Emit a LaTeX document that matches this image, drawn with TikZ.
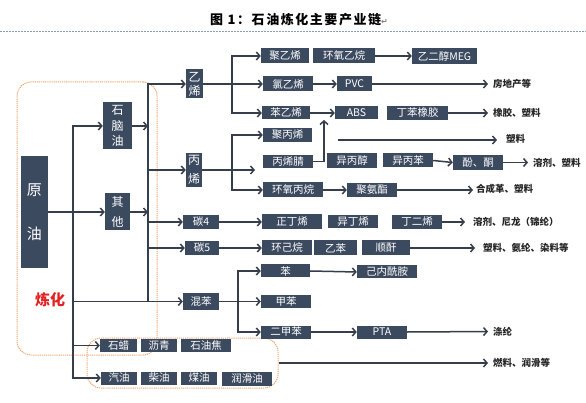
\documentclass[tikz,border=0pt]{standalone}
\usepackage{fontspec}
\usetikzlibrary{arrows.meta}
\newfontfamily\cjk{Noto Sans CJK SC}
\newfontfamily\symf{DejaVu Sans}
\definecolor{boxc}{RGB}{60,74,96}
\definecolor{linec}{RGB}{55,62,75}
\definecolor{orng}{RGB}{240,165,110}
\definecolor{dashc}{RGB}{140,155,175}
\definecolor{redc}{RGB}{225,35,35}
\begin{document}
\begin{tikzpicture}[x=1pt,y=-1pt,
 bx/.style={fill=boxc,text=white,inner sep=0pt,minimum height=14pt,font=\cjk\fontsize{10.5}{11}\selectfont},
 vb/.style={fill=boxc,text=white,inner sep=0pt,align=center},
 lbl/.style={anchor=west,inner sep=0pt,font=\cjk\bfseries\fontsize{9.5}{10}\selectfont,text=black!85},
 ln/.style={draw=linec,line width=1.5pt},
 arr/.style={ln,-{Straight Barb[length=3.5pt,width=8pt]}},
 arrl/.style={arr,shorten >=5pt},
 grp/.style={draw=orng,line width=1pt,dash pattern=on 1.2pt off 0.9pt,rounded corners=14pt,inner sep=0pt},
]
\useasboundingbox (0,0) rectangle (586,403);
\fill[white] (0,0) rectangle (586,403);
% title
\node[font=\cjk\bfseries\fontsize{13}{14}\selectfont] (title) at (299,20) {\addfontfeature{LetterSpace=12}图 1：石油炼化主要产业链{\color{gray}\symf\fontsize{8}{9}\selectfont ↵}};
\coordinate (dl) at (0,31); \coordinate (dr) at (586,31);
\draw[dashc,line width=0.6pt,dash pattern=on 2pt off 1pt] (dl) -- (dr);
% groups
\node[grp,minimum width=140pt,minimum height=273pt] (g1) at (87,218.5) {};
\node[grp,minimum width=191pt,minimum height=50pt] (g2) at (182.5,363) {};
% left column
\node[vb,minimum width=27pt,minimum height=112pt,font=\cjk\fontsize{15}{44}\selectfont] (yy) at (34.5,212) {原\\油};
\node[font=\cjk\bfseries\fontsize{15}{16}\selectfont,text=redc] (lh) at (50,300) {炼化};
\node[vb,minimum width=29pt,minimum height=47pt,font=\cjk\fontsize{12}{15.5}\selectfont] (snl) at (117.5,126) {石\\脑\\油};
\node[vb,minimum width=25pt,minimum height=37pt,font=\cjk\fontsize{12}{20}\selectfont] (qt) at (117.5,212) {其\\他};
% second column
\node[vb,minimum width=17pt,minimum height=29pt,font=\cjk\fontsize{12}{14}\selectfont] (yx) at (194.5,84) {乙\\烯};
\node[vb,minimum width=16pt,minimum height=34pt,font=\cjk\fontsize{12}{19}\selectfont] (bx) at (194,170) {丙\\烯};
\node[bx,minimum width=36pt] (c4) at (201,222) {碳4};
\node[bx,minimum width=34pt] (c5) at (202,248) {碳5};
\node[bx,minimum width=36pt,minimum height=17pt] (hb) at (201,301.5) {混苯};
% ethylene rows
\node[bx,minimum width=48pt,minimum height=15pt] (jyx) at (285,56) {聚乙烯};
\node[bx,minimum width=62pt,minimum height=15pt] (hyyw) at (344,56) {环氧乙烷};
\node[bx,minimum width=65pt,minimum height=16pt] (meg) at (444.5,56) {乙二醇MEG};
\node[bx,minimum width=50pt,minimum height=15pt] (lyx) at (288,84) {氯乙烯};
\node[bx,minimum width=35pt,minimum height=15pt] (pvc) at (354.5,84) {PVC};
\node[lbl] (l1) at (493,84) {房地产等};
\node[bx,minimum width=48pt,minimum height=13pt] (byx) at (286,113) {苯乙烯};
\node[bx,minimum width=43pt,minimum height=13pt] (abs) at (356.5,113) {ABS};
\node[bx,minimum width=61pt] (dbxj) at (417.5,113) {丁苯橡胶};
\node[lbl] (l2) at (493,113) {橡胶、塑料};
% propylene rows
\node[bx,minimum width=49pt] (jbx) at (287.5,135) {聚丙烯};
\coordinate (s1) at (338,140);
\node[lbl] (l3) at (506,139) {塑料};
\node[bx,minimum width=50pt,minimum height=13pt] (bxj) at (288,161.5) {丙烯腈};
\node[bx,minimum width=50pt,minimum height=15pt] (ybc) at (352,160.5) {异丙醇};
\node[bx,minimum width=50pt] (ybb) at (408,160.5) {异丙苯};
\node[bx,minimum width=50pt,minimum height=15pt] (ft) at (478,162.5) {酚、酮};
\node[lbl] (l4) at (533,162.5) {溶剂、塑料};
\node[bx,minimum width=60pt,minimum height=15pt] (hybw) at (293,190) {环氧丙烷};
\node[bx,minimum width=50pt] (jaz) at (372,190) {聚氨酯};
\node[lbl] (l5) at (476,189) {合成革、塑料};
% C4 / C5
\node[bx,minimum width=60pt,minimum height=15pt] (zdx) at (292,222) {正丁烯};
\node[bx,minimum width=50pt,minimum height=13pt] (ydx) at (353,222) {异丁烯};
\node[bx,minimum width=50pt] (ded) at (417,222) {丁二烯};
\node[lbl] (l6) at (473,222) {溶剂、尼龙（锦纶）};
\node[bx,minimum width=50pt,minimum height=15pt] (hjw) at (287,248) {环己烷};
\node[bx,minimum width=43pt,minimum height=15pt] (yb) at (335.5,248) {乙苯};
\node[bx,minimum width=48pt,minimum height=15pt] (sg) at (386,248) {顺酐};
\node[lbl] (l7) at (483,248) {塑料、氨纶、染料等};
% aromatics
\node[bx,minimum width=49pt,minimum height=13pt] (ben) at (285.5,271) {苯};
\node[bx,minimum width=60pt,minimum height=13pt] (jnxa) at (387,272) {己内酰胺};
\node[bx,minimum width=50pt,minimum height=13pt] (jb) at (286,301.5) {甲苯};
\node[bx,minimum width=50pt,minimum height=13pt] (ejb) at (286,332) {二甲苯};
\node[bx,minimum width=50pt,minimum height=13pt] (pta) at (382,332) {PTA};
\node[lbl] (l8) at (493,331.5) {涤纶};
% products
\node[bx,minimum width=37pt,minimum height=13pt] (sl) at (118.5,345.5) {石蜡};
\node[bx,minimum width=36pt,minimum height=13pt] (lq) at (159,345.5) {沥青};
\node[bx,minimum width=50pt,minimum height=13pt] (syj) at (206,345.5) {石油焦};
\node[bx,minimum width=36pt,minimum height=13pt] (qy) at (119,378) {汽油};
\node[bx,minimum width=36pt,minimum height=13pt] (cy) at (159,378) {柴油};
\node[bx,minimum width=36pt,minimum height=13pt] (my) at (199,378) {煤油};
\node[bx,minimum width=50pt,minimum height=14pt] (rhy) at (247,378.5) {润滑油};
\node[lbl] (l9) at (493,363) {燃料、润滑等};
% trunk 1
\coordinate (t1top) at (73,126);
\coordinate (t1bot) at (73,378);
\coordinate (t1hb) at (73,301.5);
\coordinate (t1sl) at (73,345.5);
\draw[arr] (t1bot) -- (t1top) -- (snl.west);
\draw[arr] (t1top) -- (t1bot) -- (qy.west);
\draw[arr] (yy.east) -- (qt.west);
\draw[arr] (t1hb) -- (hb.west);
\draw[arr] (t1sl) -- (sl.west);
% trunk 2
\coordinate (t2top) at (148,84);
\coordinate (t2bot) at (148,301.5);
\draw[arr] (t2bot) -- (t2top) -- (yx.west);
\draw[arr] (snl.east) -- (snl.east -| t2top);
\draw[arr] (qt.east) -- (qt.east -| t2top);
\draw[arr] (bx.west -| t2top) -- (bx.west);
\draw[arr] (c4.west -| t2top) -- (c4.west);
\draw[arr] (c5.west -| t2top) -- (c5.west);
% ethylene branch
\coordinate (e1) at (232,56);
\coordinate (e2) at (232,113);
\draw[arr] (yx.east) -- (lyx.west);
\draw[arr] (e2) -- (e1) -- (jyx.west);
\draw[arr] (e1) -- (e2) -- (byx.west);
\draw[arr] (hyyw.east) -- (meg.west);
\draw[arr] (lyx.east) -- (pvc.west);
\draw[arrl] (pvc.east) -- (l1.west);
\draw[arr] (byx.east) -- (abs.west);
\draw[arrl] (dbxj.east) -- (l2.west);
% propylene branch
\coordinate (p1) at (232,135);
\coordinate (p2) at (232,190);
\coordinate (pend) at (255,170);
\coordinate (absup) at (324,120);
\draw[arr] (p2) -- (p1) -- (jbx.west);
\draw[arr] (p1) -- (p2) -- (hybw.west);
\draw[arr] (bx.east) -- (pend);
\draw[arr] (bxj.east) -| (absup);
\draw[arr,shorten >=9pt] (s1) -- (l3.west |- s1);
\draw[arr] (ybb.east) -- (ft.west);
\draw[arrl] (ft.east) -- (l4.west);
\draw[arr] (hybw.east) -- (jaz.west);
\draw[arr,shorten >=3pt] (jaz.east) -- (l5.west |- jaz.east);
% C4 / C5
\draw[arr] (c4.east) -- (zdx.west);
\draw[arr,shorten >=8pt] (ded.east) -- (l6.west);
\draw[arr] (c5.east) -- (hjw.west);
\draw[arr,shorten >=8pt] (sg.east) -- (l7.west);
% aromatics
\coordinate (m1) at (238,271);
\coordinate (m2) at (238,332);
\draw[arr] (hb.east) -- (jb.west);
\draw[arr] (m2) -- (m1) -- (ben.west);
\draw[arr] (m1) -- (m2) -- (ejb.west);
\draw[arr] (ben.east) -- (jnxa.west);
\draw[arr] (ejb.east) -- (pta.west);
\draw[arrl] (pta.east) -- (l8.west);
\draw[arrl] (g2.east) -- (l9.west);
\end{tikzpicture}
\end{document}
